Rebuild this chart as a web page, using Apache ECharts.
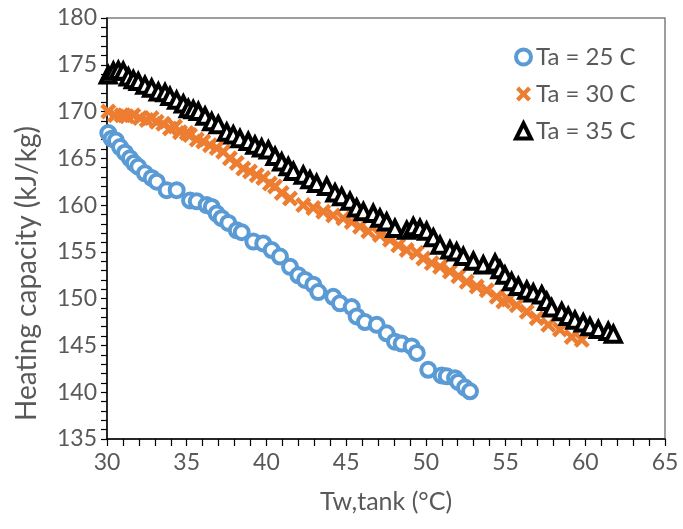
<!DOCTYPE html>
<html>
<head>
<meta charset="utf-8">
<script src="https://cdn.jsdelivr.net/npm/echarts@6/dist/echarts.min.js"></script>
<style>
  html, body { margin: 0; padding: 0; background: #ffffff; }
  #chart { width: 683px; height: 529px; }
</style>
</head>
<body>
<div id="chart"></div>
<script>
// Heating capacity vs. tank water temperature for three ambient temperatures
const seriesNames = ['Ta = 25 C', 'Ta = 30 C', 'Ta = 35 C'];

const ta25Temp = [30.08, 30.29, 30.56, 30.82, 31.13, 31.44, 31.69, 31.96, 32.38, 32.80, 33.12, 33.74, 34.37,
  35.21, 35.63, 36.25, 36.57, 36.88, 37.19, 37.61, 38.14, 38.45, 39.18, 39.80, 40.33, 40.85, 41.48, 42.00,
  42.42, 42.94, 43.25, 44.19, 44.61, 45.35, 45.66, 46.18, 46.92, 47.54, 48.06, 48.48, 49.11, 49.43, 50.15,
  50.99, 51.31, 51.83, 52.03, 52.45, 52.77];
const ta25Cap = [167.7, 167.1, 166.9, 166.2, 165.6, 165.0, 164.5, 164.1, 163.4, 162.9, 162.5, 161.6, 161.6,
  160.5, 160.4, 160.0, 159.8, 159.1, 158.6, 158.1, 157.3, 157.1, 156.1, 155.9, 155.2, 154.5, 153.4, 152.5,
  152.0, 151.5, 150.7, 150.2, 149.5, 149.1, 148.1, 147.5, 147.2, 146.3, 145.4, 145.2, 144.9, 144.2, 142.4,
  141.8, 141.7, 141.5, 141.1, 140.5, 140.1];

const ta30Temp = [30.08, 30.50, 30.92, 31.24, 31.65, 32.07, 32.49, 32.80, 33.12, 33.53, 33.95, 34.27, 34.58,
  35.00, 35.21, 35.63, 36.04, 36.46, 36.88, 37.29, 37.71, 38.14, 38.55, 38.97, 39.39, 39.80, 40.22, 40.54,
  40.96, 41.48, 42.31, 42.94, 43.57, 44.19, 44.82, 45.35, 45.87, 46.39, 47.12, 47.75, 48.27, 48.80, 49.43,
  49.84, 50.37, 50.89, 51.51, 52.04, 52.56, 53.19, 53.82, 54.44, 54.86, 55.17, 55.70, 56.33, 56.95, 57.68,
  58.41, 59.15, 59.78];
const ta30Cap = [170.0, 169.6, 169.6, 169.5, 169.6, 169.3, 169.1, 169.3, 168.9, 168.7, 168.2, 168.4, 167.8,
  167.7, 167.5, 167.0, 166.8, 166.4, 166.1, 165.7, 165.0, 164.5, 163.9, 163.6, 163.2, 162.9, 162.3, 162.0,
  161.3, 160.7, 160.0, 159.7, 159.3, 158.9, 158.6, 158.2, 157.7, 157.2, 156.8, 156.3, 155.7, 155.2, 154.9,
  154.3, 153.8, 153.4, 152.9, 152.4, 151.8, 151.3, 150.9, 150.2, 149.7, 149.9, 149.3, 148.6, 147.9, 147.2,
  146.7, 145.9, 145.6];

const ta35Temp = [30.08, 30.40, 30.71, 31.02, 31.34, 31.65, 31.96, 32.38, 32.80, 33.22, 33.64, 33.95, 34.37,
  34.79, 35.10, 35.41, 35.73, 36.15, 36.57, 36.98, 37.51, 37.92, 38.34, 38.86, 39.28, 39.70, 40.12, 40.54,
  40.96, 41.37, 41.69, 42.31, 42.73, 43.15, 43.78, 44.30, 44.72, 45.24, 45.66, 46.08, 46.70, 47.12, 47.54,
  48.06, 48.80, 49.21, 49.63, 50.05, 50.47, 50.89, 51.51, 51.93, 52.35, 52.98, 53.60, 54.34, 54.65, 54.96,
  55.38, 55.80, 56.33, 56.74, 57.27, 57.58, 57.89, 58.52, 58.93, 59.35, 59.87, 60.29, 60.82, 61.44, 61.76];
const ta35Cap = [173.9, 174.3, 174.4, 174.3, 173.7, 173.4, 173.2, 172.8, 172.5, 172.1, 172.0, 171.6, 171.2,
  170.8, 170.3, 170.2, 170.0, 169.5, 168.9, 168.6, 167.8, 167.5, 167.1, 166.8, 166.4, 166.1, 165.9, 165.2,
  164.6, 164.1, 163.6, 163.2, 162.7, 162.3, 162.0, 161.3, 160.9, 160.4, 159.7, 159.3, 159.1, 158.6, 158.2,
  157.5, 157.3, 157.7, 157.5, 157.2, 156.5, 155.7, 155.2, 155.0, 154.5, 154.0, 153.6, 153.8, 153.1, 152.5,
  151.8, 151.3, 150.9, 150.6, 150.4, 149.7, 149.0, 148.6, 148.1, 147.7, 147.4, 147.0, 146.7, 146.5, 146.2];

const xTicks = { min: 30, max: 65, step: 5 };
const yTicks = { min: 135, max: 180, step: 5 };

const pairs = (xs, ys) => xs.map((x, i) => [x, ys[i]]);

const textColor = '#595959';
const fontFamily = 'Lato, "Open Sans", sans-serif';
// thick "x" marker
const crossPath = 'path://M0,2 L2,0 L5,3 L8,0 L10,2 L7,5 L10,8 L8,10 L5,7 L2,10 L0,8 L3,5 Z';

const chart = echarts.init(document.getElementById('chart'), null, { renderer: 'canvas' });

chart.setOption({
  animation: false,
  backgroundColor: '#ffffff',
  grid: {
    left: 107, right: 18, top: 18, bottom: 90,
    show: true, borderColor: '#7f7f7f', borderWidth: 1.5
  },
  legend: {
    orient: 'vertical',
    left: 509, top: 40,
    itemGap: 13,
    itemWidth: 15, itemHeight: 15,
    textStyle: { color: textColor, fontSize: 24, fontFamily: fontFamily },
    data: [
      { name: seriesNames[0], itemStyle: { borderWidth: 4 } },
      { name: seriesNames[1] },
      { name: seriesNames[2], itemStyle: { borderWidth: 4 } }
    ]
  },
  xAxis: {
    type: 'value',
    min: xTicks.min, max: xTicks.max, interval: xTicks.step,
    name: 'Tw,tank (\u00B0C)',
    nameLocation: 'middle', nameGap: 50,
    nameTextStyle: { color: textColor, fontSize: 25, fontFamily: fontFamily },
    axisLine: { lineStyle: { color: '#000000', width: 1.5 } },
    axisTick: { show: true, inside: false, length: 7, lineStyle: { color: '#000000', width: 1.2 } },
    minorTick: { show: true, splitNumber: 5, length: 7, lineStyle: { color: '#000000', width: 1.2 } },
    splitLine: { show: false },
    axisLabel: { color: textColor, fontSize: 23, fontFamily: fontFamily, margin: 12 }
  },
  yAxis: {
    type: 'value',
    min: yTicks.min, max: yTicks.max, interval: yTicks.step,
    name: 'Heating capacity (kJ/kg)',
    nameLocation: 'middle', nameGap: 66,
    nameTextStyle: { color: textColor, fontSize: 28, fontFamily: fontFamily, padding: [0, 90, 0, 0] },
    axisLine: { lineStyle: { color: '#000000', width: 1.5 } },
    axisTick: { show: true, inside: false, length: 6, lineStyle: { color: '#000000', width: 1.2 } },
    minorTick: { show: true, splitNumber: 5, length: 6, lineStyle: { color: '#000000', width: 1.2 } },
    splitLine: { show: false },
    axisLabel: { color: textColor, fontSize: 23, fontFamily: fontFamily, margin: 10 }
  },
  series: [
    {
      name: seriesNames[0], type: 'scatter',
      symbol: 'circle', symbolSize: 14,
      itemStyle: { color: '#ffffff', borderColor: '#5B9BD5', borderWidth: 4, opacity: 1 },
      data: pairs(ta25Temp, ta25Cap)
    },
    {
      name: seriesNames[1], type: 'scatter',
      symbol: crossPath, symbolSize: 16,
      itemStyle: { color: '#ED7D31', opacity: 1 },
      data: pairs(ta30Temp, ta30Cap)
    },
    {
      name: seriesNames[2], type: 'scatter',
      symbol: 'triangle', symbolSize: 15,
      itemStyle: { color: '#ffffff', borderColor: '#000000', borderWidth: 4, opacity: 1 },
      data: pairs(ta35Temp, ta35Cap)
    }
  ]
});
</script>
</body>
</html>
